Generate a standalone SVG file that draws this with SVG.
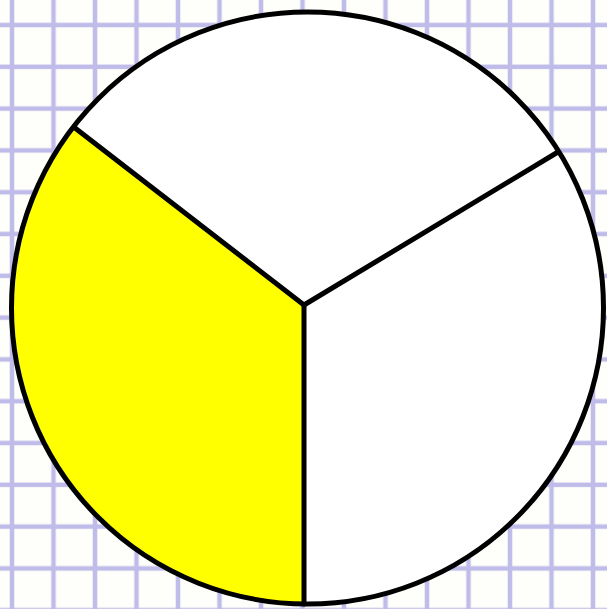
<svg xmlns="http://www.w3.org/2000/svg" width="607" height="609" viewBox="0 0 607 609">
  <defs>
    <pattern id="grid" x="-8.75" y="4.25" width="41.5" height="41.8" patternUnits="userSpaceOnUse">
      <rect x="0" y="0" width="41.5" height="41.8" fill="#fefefa"/>
      <rect x="18.5" y="0" width="4.5" height="41.8" fill="#c0bcea"/>
      <rect x="0" y="18.5" width="41.5" height="4.5" fill="#c0bcea"/>
    </pattern>
  </defs>
  <style>
    .edge { stroke: #000; stroke-width: 5; fill: none; stroke-linecap: round; }
  </style>
  <rect x="0" y="0" width="607" height="609" fill="url(#grid)"/>
  <g id="circle">
    <circle cx="307.5" cy="308" r="296" fill="#ffffff"/>
  </g>
  <g id="yellow-sector">
    <path d="M304,305 L75,128 A296,296 0 0 0 304,604 Z" fill="#ffff00"/>
  </g>
  <g id="connectors">
    <line class="edge" x1="304" y1="305" x2="75" y2="128"/>
    <line class="edge" x1="304" y1="305" x2="558" y2="152"/>
    <line class="edge" x1="304" y1="305" x2="304" y2="604"/>
  </g>
  <g id="outline">
    <circle class="edge" cx="307.5" cy="308" r="296"/>
  </g>
</svg>
